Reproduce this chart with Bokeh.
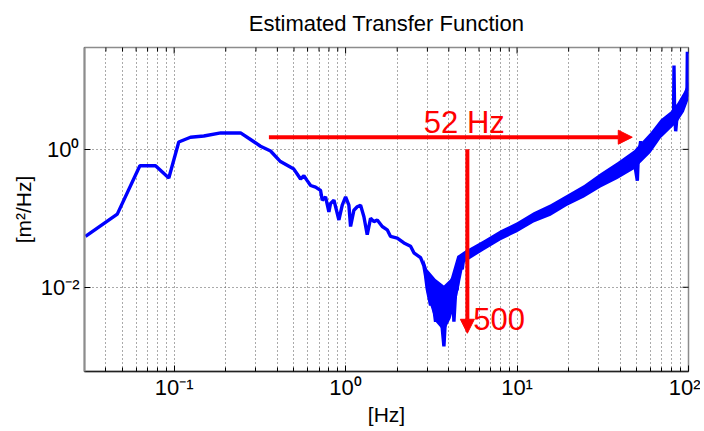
import math
from bokeh.plotting import figure
from bokeh.models import (FixedTicker, Arrow, NormalHead, Label,
                          CustomJSTickFormatter)
from bokeh.embed import file_html
from bokeh.resources import INLINE

# ---------------- data ----------------
freq = [0.0304, 0.0466, 0.0631, 0.0779, 0.0931, 0.1064, 0.1245, 0.149, 0.187, 0.244,
        0.279, 0.319, 0.365, 0.417, 0.499, 0.522, 0.546, 0.571, 0.597, 0.625,
        0.668, 0.714, 0.731, 0.764, 0.799, 0.817, 0.855, 0.914, 0.956, 1.0,
        1.045, 1.069, 1.118, 1.169, 1.223, 1.279, 1.337, 1.398, 1.463, 1.530,
        1.636, 1.749, 1.829, 2.001, 2.189, 2.393, 2.503, 2.737, 2.862, 2.927,
        2.994, 3.131, 3.202, 3.348, 3.424, 3.501, 3.581, 3.662, 3.745, 3.830,
        3.917, 4.005, 4.097, 4.190, 4.283, 4.380, 4.480, 4.581, 4.790, 4.899,
        5.359, 6.41, 8.02, 10.0, 12.5, 15.7, 19.6, 24.6, 30.7, 38.5,
        48.1, 50.3, 50.9, 52.6, 53.5, 60.1, 68.8, 78.7, 81.8, 82.3,
        83.0, 84.2, 86.1, 94.1, 98.0, 98.5, 99.3, 99.8]
psd = [0.0546, 0.115, 0.577, 0.577, 0.385, 1.28, 1.50, 1.56, 1.73, 1.73,
       1.39, 1.11, 0.946, 0.665, 0.517, 0.439, 0.372, 0.415, 0.352, 0.299,
       0.283, 0.254, 0.183, 0.204, 0.124, 0.164, 0.183, 0.0946, 0.155, 0.204,
       0.155, 0.076, 0.131, 0.147, 0.155, 0.1055, 0.0577, 0.0999, 0.0895, 0.0946,
       0.076, 0.068, 0.0546, 0.0517, 0.0439, 0.0393, 0.0316, 0.0268, 0.0204, 0.01466,
       0.00946, 0.00546, 0.0076, 0.00316, 0.0061, 0.0049, 0.00946, 0.00254, 0.00139, 0.00393,
       0.00316, 0.0076, 0.0061, 0.0133, 0.00316, 0.00848, 0.00946, 0.0227, 0.01826, 0.0283,
       0.0316, 0.0404, 0.056, 0.074, 0.103, 0.131, 0.183, 0.247, 0.353, 0.49,
       0.70, 0.352, 0.75, 1.31, 0.85, 1.27, 1.98, 2.67, 3.0, 16.4,
       3.2, 1.83, 3.43, 4.9, 6.0, 26.0, 8.0, 7.0]

# noise band envelope
band_f = [2.862, 2.994, 3.348, 3.745, 4.097, 4.480, 4.899, 6.41, 8.02, 10.0,
          12.5, 15.7, 19.6, 24.6, 30.7, 38.5, 48.1, 60.1, 68.8, 78.7,
          86.1, 94.1, 99.8]
band_lo = [0.0173, 0.0076, 0.00316, 0.00228, 0.00352, 0.0076, 0.0227, 0.0345, 0.048, 0.063,
           0.087, 0.109, 0.152, 0.2, 0.28, 0.37, 0.515, 0.89, 1.45, 2.0,
           2.5, 3.5, 5.18]
band_hi = [0.0254, 0.0183, 0.01315, 0.01057, 0.01315, 0.0283, 0.033, 0.048, 0.067, 0.088,
           0.122, 0.16, 0.22, 0.305, 0.45, 0.65, 0.96, 1.75, 2.7, 3.55,
           4.65, 6.8, 9.45]

x_major = [0.1, 1, 10, 100]
x_minor = [0.03, 0.04, 0.05, 0.06, 0.07, 0.08, 0.09,
           0.2, 0.3, 0.4, 0.5, 0.6, 0.7, 0.8, 0.9,
           2, 3, 4, 5, 6, 7, 8, 9,
           20, 30, 40, 50, 60, 70, 80, 90]
y_major = [0.01, 1]

title_text = "Estimated Transfer Function"
x_label = "[Hz]"
y_label = "[m\u00b2/Hz]"
arrow_label = "52 Hz"
count_label = "500"

FONT = "Liberation Sans"
X0, X1 = 0.03, 100
Y0, Y1 = 6e-4, 30

p = figure(width=700, height=428, x_axis_type="log", y_axis_type="log",
           x_range=(X0, X1), y_range=(Y0, Y1),
           output_backend="svg", toolbar_location=None,
           min_border_left=84, min_border_right=12, min_border_top=45, min_border_bottom=54,
           title=title_text)

p.title.align = "center"
p.title.vertical_align = "top"
p.title.text_font = FONT
p.title.text_font_size = "22px"
p.title.text_font_style = "normal"
p.title.text_color = "#000000"
p.title.text_line_height = 0.9
p.title.standoff = 20

fmt = CustomJSTickFormatter(code="""
const sup = {'-':'\u207b','0':'\u2070','1':'\u00b9','2':'\u00b2','3':'\u00b3','4':'\u2074',
             '5':'\u2075','6':'\u2076','7':'\u2077','8':'\u2078','9':'\u2079'};
const e = Math.round(Math.log10(tick));
return '10' + String(e).split('').map(c => sup[c]).join('');
""")

xt = FixedTicker(ticks=x_major, minor_ticks=x_minor)
yt = FixedTicker(ticks=y_major, minor_ticks=[])

for ax, tk in ((p.xaxis[0], xt), (p.yaxis[0], yt)):
    ax.ticker = tk
    ax.formatter = fmt
    ax.major_label_text_font = FONT
    ax.major_label_text_font_size = "22px"
    ax.major_label_text_color = "#000000"
    ax.axis_label_text_font = FONT
    ax.axis_label_text_font_size = "21px"
    ax.axis_label_text_font_style = "normal"
    ax.axis_label_text_color = "#000000"
    ax.major_tick_in = 6
    ax.major_tick_out = 0
    ax.minor_tick_in = 4
    ax.minor_tick_out = 0
    ax.major_tick_line_color = "#000000"
    ax.minor_tick_line_color = "#000000"

p.xaxis[0].axis_label = x_label
p.yaxis[0].axis_label = y_label
p.xaxis[0].axis_line_color = "#222222"
p.xaxis[0].axis_line_width = 1.5
p.yaxis[0].axis_line_color = "#8c8c8c"
p.yaxis[0].axis_line_width = 2
p.xaxis[0].major_label_standoff = 3
p.yaxis[0].major_label_standoff = 5
p.xaxis[0].axis_label_standoff = 0
p.yaxis[0].axis_label_standoff = 3

p.xgrid.ticker = xt
p.ygrid.ticker = yt
p.xgrid.grid_line_color = "#555555"
p.xgrid.grid_line_dash = "1 3"
p.xgrid.minor_grid_line_color = "#555555"
p.xgrid.minor_grid_line_dash = "1 3"
p.ygrid.grid_line_color = "#555555"
p.ygrid.grid_line_dash = "1 3"
p.outline_line_color = "#8c8c8c"
p.outline_line_width = 1.5
p.background_fill_color = "white"
p.border_fill_color = "white"

# tick marks on the top and right frame edges (half of each dash is clipped by the frame)
p.scatter(x=x_major, y=[Y1] * len(x_major), marker="dash", angle=math.pi / 2,
          size=12, line_color="#000000", line_width=1)
p.scatter(x=x_minor, y=[Y1] * len(x_minor), marker="dash", angle=math.pi / 2,
          size=8, line_color="#000000", line_width=1)
p.scatter(x=[X1] * len(y_major), y=y_major, marker="dash", angle=0,
          size=12, line_color="#000000", line_width=1)

p.varea(x=band_f, y1=band_lo, y2=band_hi, fill_color="#0000ff")
p.line(freq, psd, line_color="#0000ff", line_width=3.4)

# red annotations
p.add_layout(Arrow(end=NormalHead(size=14, fill_color="#ff0000", line_color="#ff0000"),
                   x_start=0.357, y_start=1.5, x_end=47, y_end=1.5,
                   line_color="#ff0000", line_width=4))
p.add_layout(Arrow(end=NormalHead(size=14, fill_color="#ff0000", line_color="#ff0000"),
                   x_start=5.13, y_start=1.0, x_end=5.13, y_end=0.00215,
                   line_color="#ff0000", line_width=4))
p.add_layout(Label(x=2.86, y=2.45, text=arrow_label, text_color="#ff0000",
                   text_font=FONT, text_font_size="31px", text_baseline="middle"))
p.add_layout(Label(x=5.56, y=0.00352, text=count_label, text_color="#ff0000",
                   text_font=FONT, text_font_size="31px", text_baseline="middle"))

open("out.html", "w").write(file_html(p, INLINE))
